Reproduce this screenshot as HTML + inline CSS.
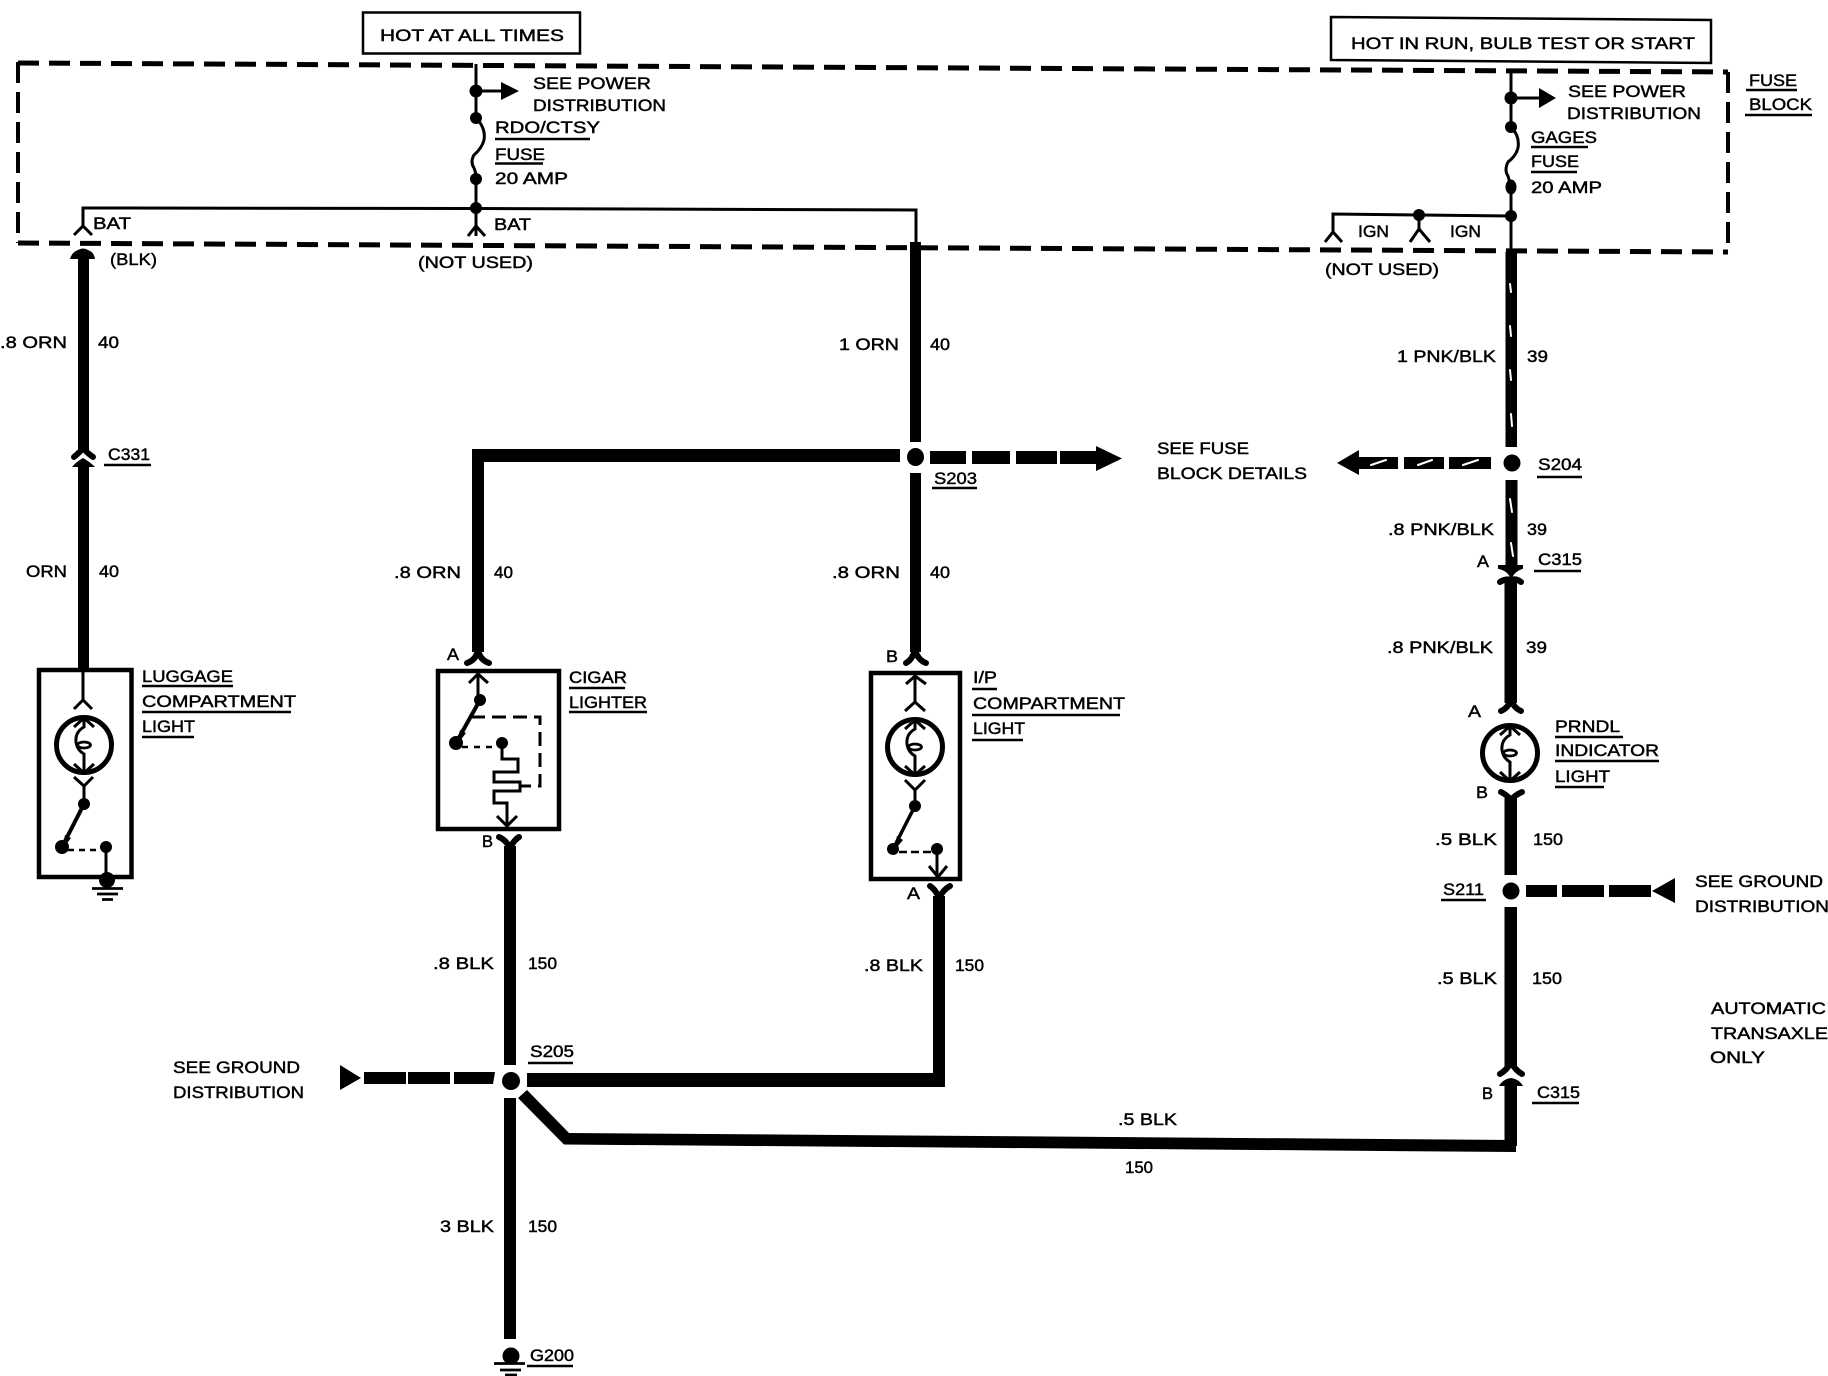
<!DOCTYPE html>
<html lang="en"><head><meta charset="utf-8"><title>Courtesy lamp wiring diagram</title>
<style>
html,body{margin:0;padding:0;background:#fff;width:1828px;height:1376px;overflow:hidden}
svg{display:block;position:absolute;left:0;top:0}
text{font-family:"Liberation Sans",sans-serif;font-size:17px;fill:#000;stroke:#000;stroke-width:.45}
.w{fill:none;stroke:#000;stroke-linejoin:miter}
.t{fill:none;stroke:#000;stroke-width:3}
.u{fill:none;stroke:#000;stroke-width:2.5}
.f{fill:none;stroke:#000;stroke-width:6;stroke-linecap:round}
.s{stroke:#fff;stroke-width:2;fill:none;stroke-linecap:round}
</style></head><body>
<svg width="1828" height="1376" viewBox="0 0 1828 1376" xmlns="http://www.w3.org/2000/svg">
<defs>
<g id="bulb">
<circle cx="0" cy="0" r="27.5" fill="#fff" stroke="#000" stroke-width="5"/>
<path d="M-10 -18 L0 -27 L10 -18 M-10 19 L0 28 L10 19" fill="none" stroke="#000" stroke-width="3"/>
<path d="M0 -27 V-18 Q-9 -13 -8 -3 Q-7 5 0 9 V27" fill="none" stroke="#000" stroke-width="3"/>
<ellipse cx="0" cy="0" rx="6.5" ry="3" fill="#fff" stroke="#000" stroke-width="2.8"/>
</g>
</defs>

<!-- fuse block dashed outline -->
<g fill="none" stroke="#000">
<path d="M18 63 L1728 72" stroke-width="5" stroke-dasharray="21 10"/>
<path d="M18 243 L1728 252" stroke-width="5" stroke-dasharray="21 10"/>
<path d="M18 62 V243" stroke-width="4" stroke-dasharray="21 9"/>
<path d="M1728 72 V252" stroke-width="4" stroke-dasharray="21 9"/>
</g>

<!-- header boxes -->
<rect x="363" y="12.5" width="217" height="41" fill="#fff" stroke="#000" stroke-width="2.5"/>
<path d="M1331 17 L1711 20 V63 L1331 60 Z" fill="#fff" stroke="#000" stroke-width="2.5"/>
<text x="380" y="41" textLength="184" lengthAdjust="spacingAndGlyphs">HOT AT ALL TIMES</text>
<text x="1351" y="49" textLength="344" lengthAdjust="spacingAndGlyphs">HOT IN RUN, BULB TEST OR START</text>

<!-- left fuse column -->
<path class="t" d="M476 64 V118 M476 179 V236"/>
<path class="t" d="M476 118 Q486 128 484 140 Q482 148 474 155 Q470 162 474 168 Q476 172 476 179"/>
<circle cx="476" cy="91" r="6.5"/><circle cx="476" cy="118" r="6"/><circle cx="476" cy="179" r="6"/><circle cx="476" cy="208" r="6"/>
<path class="t" d="M476 91 H503"/><path d="M501 82 L519 91 L501 100 Z"/>
<path class="t" d="M83 226 V208 L476 208.5 L916 210 V244"/>
<path class="t" d="M74 235 L83 226 L92 235 M468 236 L476 226 L485 236"/>

<!-- right fuse column -->
<path class="t" d="M1511 70 V254"/>
<rect x="1508" y="128" width="6" height="58" fill="#fff"/>
<path class="t" d="M1511 127 Q1520 136 1518 148 Q1516 156 1508 162 Q1504 170 1508 176 L1511 187"/>
<circle cx="1511" cy="98" r="6.5"/><circle cx="1511" cy="127" r="6"/><ellipse cx="1511" cy="187" rx="5.5" ry="7.5"/><circle cx="1511" cy="216" r="6"/>
<path class="t" d="M1511 98 H1541"/><path d="M1539 88 L1556 98 L1539 108 Z"/>
<path class="t" d="M1511 216 L1333 214 V233"/>
<path class="t" d="M1325 242 L1333 232 L1342 242 M1419 215 V230 M1410 242 L1419 229 L1430 242"/>
<circle cx="1419" cy="215" r="6"/>

<!-- wire 40 left -->
<path d="M70 259 Q72 252 78 250 Q83 247 88 250 Q94 252 95 259 L89 259 V445 H78 V259 Z"/>
<path class="f" d="M74 457 Q80 452 83 448 Q86 452 93 457"/>
<path d="M78 444 H89 V450 H78 Z"/>
<path d="M72 467 Q76 462 83 458 Q90 462 95 467 L89 467 V669 H78 V467 Z"/>

<!-- luggage light -->
<rect x="39" y="670" width="92.5" height="207" fill="#fff" stroke="#000" stroke-width="4.5"/>
<path class="t" d="M83 669 V702 M74 709 L83 700 L92 709"/>
<use href="#bulb" x="84" y="745"/>
<path class="t" d="M74 777 L84 786 L93 777 M84 786 V804"/>
<circle cx="84" cy="804" r="6"/>
<path d="M84 804 L62 847" stroke="#000" stroke-width="4"/>
<path d="M65 835 L71 838 L62 850 Z"/>
<circle cx="62" cy="847" r="7"/><circle cx="106" cy="847" r="6"/>
<path d="M68 850 H100" stroke="#000" stroke-width="2.5" stroke-dasharray="6 5" fill="none"/>
<path class="t" d="M106 847 V878"/>
<circle cx="107" cy="880" r="8"/>
<path d="M92 888.5 H123 M97 894 H118 M102 899.5 H113" stroke="#000" stroke-width="2.8" fill="none"/>

<!-- 40 branch to cigar lighter and S203 -->
<path d="M472 449 H900 V462 H484 V652 H472 Z"/>
<path class="f" d="M467 663 Q476 660 478 650 Q480 660 489 663"/>
<path d="M910 242 H921 V442 H910 Z"/>
<ellipse cx="915.5" cy="457" rx="8.5" ry="9"/>
<path d="M910 473 H921 V652 H910 Z"/>
<path d="M930 451 H966 V464 H930 Z M972 451 H1010 V464 H972 Z M1016 451 H1057 V464 H1016 Z M1060 451 H1098 V464 H1060 Z"/>
<path d="M1096 446 L1122 458.5 L1096 471 Z"/>
<path class="f" d="M906 663 Q912 660 915 650 Q918 660 926 663"/>

<!-- cigar lighter -->
<rect x="438" y="671" width="121" height="158" fill="#fff" stroke="#000" stroke-width="4.5"/>
<path class="t" d="M469 683 L478 674 L488 683 M478 674 V700"/>
<circle cx="480" cy="700" r="6"/>
<path d="M480 700 L456 743" stroke="#000" stroke-width="4"/>
<path d="M460 730 L466 733 L456 746 Z"/>
<circle cx="456" cy="743" r="7"/><circle cx="502" cy="743" r="6"/>
<path d="M462 747 H497" stroke="#000" stroke-width="2.5" stroke-dasharray="6 6" fill="none"/>
<path d="M471 717 H540 V786 H520" stroke="#000" stroke-width="3" stroke-dasharray="14 7" fill="none"/>
<path d="M502 743 V759 H518 V772 H494 V782 H520 V791 H494 V803 H507 V826" fill="none" stroke="#000" stroke-width="3"/>
<path class="t" d="M497 816 L507 826 L517 816"/>
<path class="f" d="M499 837 Q506 840 510 848 Q514 840 519 837"/>
<path d="M504 846 H516 V1065 H504 Z"/>

<!-- I/P compartment light -->
<rect x="871" y="673" width="89" height="206" fill="#fff" stroke="#000" stroke-width="4.5"/>
<path class="t" d="M906 684 L915 676 L926 684 M915 676 V702 M905 711 L915 702 L925 711"/>
<use href="#bulb" x="915" y="747"/>
<path class="t" d="M905 780 L915 790 L925 780 M915 790 V806"/>
<circle cx="915" cy="806" r="6"/>
<path d="M915 806 L893 849" stroke="#000" stroke-width="3.5"/>
<path d="M897 836 L903 840 L893 852 Z"/>
<circle cx="893" cy="849" r="6"/><circle cx="937" cy="849" r="6"/>
<path d="M899 852 H932" stroke="#000" stroke-width="2.5" stroke-dasharray="8 4 8 4" fill="none"/>
<path class="t" d="M937 849 V877 M929 866 L938 877 L947 866"/>
<path class="f" d="M930 886 Q936 890 939 898 Q943 890 950 886"/>
<path d="M933 896 H945 V1087 H527 V1073 H933 Z"/>

<!-- S205 -->
<circle cx="511" cy="1081" r="9"/>
<path d="M364 1072 H406 V1084 H364 Z M408 1072 H450 V1084 H408 Z M454 1072 H495 L493 1084 H454 Z"/>
<path d="M340 1065 L361 1078 L340 1090 Z"/>
<path d="M504 1098 H516 V1339 H504 Z"/>
<path d="M518 1098 L527 1090 L569 1133 L1516 1140 V1152 L564 1144.5 Z"/>
<circle cx="511" cy="1356" r="8.5"/>
<path d="M494 1363.5 H525 M500 1370 H521 M505 1375 H517" stroke="#000" stroke-width="2.8" fill="none"/>

<!-- right wire 39 / 150 -->
<path d="M1505.5 252 H1517 V447 H1505.5 Z"/>
<circle cx="1512" cy="463" r="8.5"/>
<path d="M1505.5 480 H1517.5 V565 H1505.5 Z"/>
<path class="s" d="M1510 284 L1511 292 M1510 326 L1511 336 M1510 370 L1511 380 M1511 414 L1512 426 M1510 499 L1512 512 M1511 543 L1513 556"/>
<path d="M1499 568 Q1508 570 1511 577 Q1515 570 1522 568 V566 H1499 Z" stroke="#000" stroke-width="2"/>
<path class="f" d="M1500 582 Q1506 578 1511 580 Q1516 578 1521 582"/>
<path d="M1504.5 582 H1517 V703 H1504.5 Z"/>
<path class="f" d="M1501 711 Q1508 708 1511 700 Q1514 708 1521 711"/>
<use href="#bulb" x="1510" y="753"/>
<path class="f" d="M1501 792 Q1507 795 1511 800 Q1515 795 1522 792"/>
<path d="M1504.5 798 H1517 V875 H1504.5 Z"/>
<circle cx="1511" cy="891" r="8.5"/>
<path d="M1504.5 907 H1517 V1068 H1504.5 Z"/>
<path class="f" d="M1500 1074 Q1507 1070 1511 1062 Q1515 1070 1522 1074"/>
<path d="M1499 1086 Q1503 1079 1511 1078 Q1519 1079 1523 1086 L1517 1086 V1146 H1504.5 V1086 Z"/>

<!-- S204 arrow -->
<path d="M1337 463 L1359 450 V457 H1398 V469 H1359 V475 Z"/>
<path d="M1404 457 H1444 V469 H1404 Z M1449 457 H1491 V469 H1449 Z"/>
<path class="s" d="M1371 465 L1386 460 M1418 465 L1432 460 M1463 465 L1478 460"/>

<!-- S211 arrow -->
<path d="M1526 885 H1557 V897 H1526 Z M1562 885 H1604 V897 H1562 Z M1609 885 H1651 V897 H1609 Z"/>
<path d="M1652 891 L1675 878 V903 Z"/>

<!-- underlines -->
<path class="u" d="M495 139 H590 M495 163.5 H543 M1531 147 H1588 M1531 172 H1577 M1746 90 H1797 M1745 115 H1812 M104 465 H151 M142 686 H233 M142 712 H291 M142 737 H194 M569 688 H625 M569 712 H647 M972 689 H997 M972 715 H1120 M972 740 H1023 M932 488 H977 M1537 477 H1582 M1534 571 H1581 M1555 737 H1623 M1555 761 H1659 M1555 787 H1604 M1441 900 H1486 M1532 1103 H1579 M528 1063 H573 M527 1366 H573"/>

<!-- labels -->
<text x="533" y="89" textLength="118" lengthAdjust="spacingAndGlyphs">SEE POWER</text>
<text x="533" y="111" textLength="133" lengthAdjust="spacingAndGlyphs">DISTRIBUTION</text>
<text x="495" y="133" textLength="105" lengthAdjust="spacingAndGlyphs">RDO/CTSY</text>
<text x="495" y="160" textLength="50" lengthAdjust="spacingAndGlyphs">FUSE</text>
<text x="495" y="184" textLength="73" lengthAdjust="spacingAndGlyphs">20 AMP</text>
<text x="93" y="229" textLength="38" lengthAdjust="spacingAndGlyphs">BAT</text>
<text x="494" y="230" textLength="37" lengthAdjust="spacingAndGlyphs">BAT</text>
<text x="110" y="265" textLength="47" lengthAdjust="spacingAndGlyphs">(BLK)</text>
<text x="418" y="268" textLength="115" lengthAdjust="spacingAndGlyphs">(NOT USED)</text>

<text x="1568" y="97" textLength="118" lengthAdjust="spacingAndGlyphs">SEE POWER</text>
<text x="1567" y="119" textLength="134" lengthAdjust="spacingAndGlyphs">DISTRIBUTION</text>
<text x="1531" y="143" textLength="66" lengthAdjust="spacingAndGlyphs">GAGES</text>
<text x="1531" y="167" textLength="48" lengthAdjust="spacingAndGlyphs">FUSE</text>
<text x="1531" y="193" textLength="71" lengthAdjust="spacingAndGlyphs">20 AMP</text>
<text x="1358" y="237" textLength="31" lengthAdjust="spacingAndGlyphs">IGN</text>
<text x="1450" y="237" textLength="31" lengthAdjust="spacingAndGlyphs">IGN</text>
<text x="1325" y="275" textLength="114" lengthAdjust="spacingAndGlyphs">(NOT USED)</text>
<text x="1749" y="86" textLength="48" lengthAdjust="spacingAndGlyphs">FUSE</text>
<text x="1749" y="110" textLength="63" lengthAdjust="spacingAndGlyphs">BLOCK</text>

<text x="0" y="348" textLength="67" lengthAdjust="spacingAndGlyphs">.8 ORN</text>
<text x="98" y="348" textLength="21" lengthAdjust="spacingAndGlyphs">40</text>
<text x="839" y="350" textLength="60" lengthAdjust="spacingAndGlyphs">1 ORN</text>
<text x="930" y="350" textLength="20" lengthAdjust="spacingAndGlyphs">40</text>
<text x="1397" y="362" textLength="99" lengthAdjust="spacingAndGlyphs">1 PNK/BLK</text>
<text x="1527" y="362" textLength="21" lengthAdjust="spacingAndGlyphs">39</text>

<text x="108" y="460" textLength="42" lengthAdjust="spacingAndGlyphs">C331</text>
<text x="26" y="577" textLength="41" lengthAdjust="spacingAndGlyphs">ORN</text>
<text x="99" y="577" textLength="20" lengthAdjust="spacingAndGlyphs">40</text>
<text x="394" y="578" textLength="67" lengthAdjust="spacingAndGlyphs">.8 ORN</text>
<text x="494" y="578" textLength="19" lengthAdjust="spacingAndGlyphs">40</text>
<text x="832" y="578" textLength="68" lengthAdjust="spacingAndGlyphs">.8 ORN</text>
<text x="930" y="578" textLength="20" lengthAdjust="spacingAndGlyphs">40</text>
<text x="934" y="484" textLength="43" lengthAdjust="spacingAndGlyphs">S203</text>

<text x="1157" y="454" textLength="92" lengthAdjust="spacingAndGlyphs">SEE FUSE</text>
<text x="1157" y="479" textLength="150" lengthAdjust="spacingAndGlyphs">BLOCK DETAILS</text>
<text x="1538" y="470" textLength="44" lengthAdjust="spacingAndGlyphs">S204</text>
<text x="1388" y="535" textLength="106" lengthAdjust="spacingAndGlyphs">.8 PNK/BLK</text>
<text x="1527" y="535" textLength="20" lengthAdjust="spacingAndGlyphs">39</text>
<text x="1477" y="567" textLength="12" lengthAdjust="spacingAndGlyphs">A</text>
<text x="1538" y="565" textLength="44" lengthAdjust="spacingAndGlyphs">C315</text>
<text x="1387" y="653" textLength="106" lengthAdjust="spacingAndGlyphs">.8 PNK/BLK</text>
<text x="1526" y="653" textLength="21" lengthAdjust="spacingAndGlyphs">39</text>

<text x="142" y="682" textLength="91" lengthAdjust="spacingAndGlyphs">LUGGAGE</text>
<text x="142" y="707" textLength="154" lengthAdjust="spacingAndGlyphs">COMPARTMENT</text>
<text x="142" y="732" textLength="53" lengthAdjust="spacingAndGlyphs">LIGHT</text>
<text x="447" y="660" textLength="12" lengthAdjust="spacingAndGlyphs">A</text>
<text x="482" y="847" textLength="11" lengthAdjust="spacingAndGlyphs">B</text>
<text x="569" y="683" textLength="58" lengthAdjust="spacingAndGlyphs">CIGAR</text>
<text x="569" y="708" textLength="78" lengthAdjust="spacingAndGlyphs">LIGHTER</text>
<text x="886" y="662" textLength="12" lengthAdjust="spacingAndGlyphs">B</text>
<text x="907" y="899" textLength="13" lengthAdjust="spacingAndGlyphs">A</text>
<text x="973" y="683" textLength="24" lengthAdjust="spacingAndGlyphs">I/P</text>
<text x="973" y="709" textLength="152" lengthAdjust="spacingAndGlyphs">COMPARTMENT</text>
<text x="973" y="734" textLength="52" lengthAdjust="spacingAndGlyphs">LIGHT</text>

<text x="1468" y="717" textLength="13" lengthAdjust="spacingAndGlyphs">A</text>
<text x="1555" y="732" textLength="65" lengthAdjust="spacingAndGlyphs">PRNDL</text>
<text x="1555" y="756" textLength="104" lengthAdjust="spacingAndGlyphs">INDICATOR</text>
<text x="1555" y="782" textLength="55" lengthAdjust="spacingAndGlyphs">LIGHT</text>
<text x="1476" y="798" textLength="12" lengthAdjust="spacingAndGlyphs">B</text>
<text x="1435" y="845" textLength="62" lengthAdjust="spacingAndGlyphs">.5 BLK</text>
<text x="1533" y="845" textLength="30" lengthAdjust="spacingAndGlyphs">150</text>
<text x="1443" y="895" textLength="41" lengthAdjust="spacingAndGlyphs">S211</text>
<text x="1695" y="887" textLength="128" lengthAdjust="spacingAndGlyphs">SEE GROUND</text>
<text x="1695" y="912" textLength="134" lengthAdjust="spacingAndGlyphs">DISTRIBUTION</text>
<text x="1437" y="984" textLength="60" lengthAdjust="spacingAndGlyphs">.5 BLK</text>
<text x="1532" y="984" textLength="30" lengthAdjust="spacingAndGlyphs">150</text>
<text x="1711" y="1014" textLength="115" lengthAdjust="spacingAndGlyphs">AUTOMATIC</text>
<text x="1711" y="1039" textLength="117" lengthAdjust="spacingAndGlyphs">TRANSAXLE</text>
<text x="1710" y="1063" textLength="55" lengthAdjust="spacingAndGlyphs">ONLY</text>
<text x="1482" y="1099" textLength="11" lengthAdjust="spacingAndGlyphs">B</text>
<text x="1537" y="1098" textLength="43" lengthAdjust="spacingAndGlyphs">C315</text>

<text x="433" y="969" textLength="61" lengthAdjust="spacingAndGlyphs">.8 BLK</text>
<text x="528" y="969" textLength="29" lengthAdjust="spacingAndGlyphs">150</text>
<text x="864" y="971" textLength="59" lengthAdjust="spacingAndGlyphs">.8 BLK</text>
<text x="955" y="971" textLength="29" lengthAdjust="spacingAndGlyphs">150</text>
<text x="530" y="1057" textLength="44" lengthAdjust="spacingAndGlyphs">S205</text>
<text x="173" y="1073" textLength="127" lengthAdjust="spacingAndGlyphs">SEE GROUND</text>
<text x="173" y="1098" textLength="131" lengthAdjust="spacingAndGlyphs">DISTRIBUTION</text>
<text x="1118" y="1125" textLength="59" lengthAdjust="spacingAndGlyphs">.5 BLK</text>
<text x="1125" y="1173" textLength="28" lengthAdjust="spacingAndGlyphs">150</text>
<text x="440" y="1232" textLength="54" lengthAdjust="spacingAndGlyphs">3 BLK</text>
<text x="528" y="1232" textLength="29" lengthAdjust="spacingAndGlyphs">150</text>
<text x="530" y="1361" textLength="44" lengthAdjust="spacingAndGlyphs">G200</text>
</svg>
</body></html>
